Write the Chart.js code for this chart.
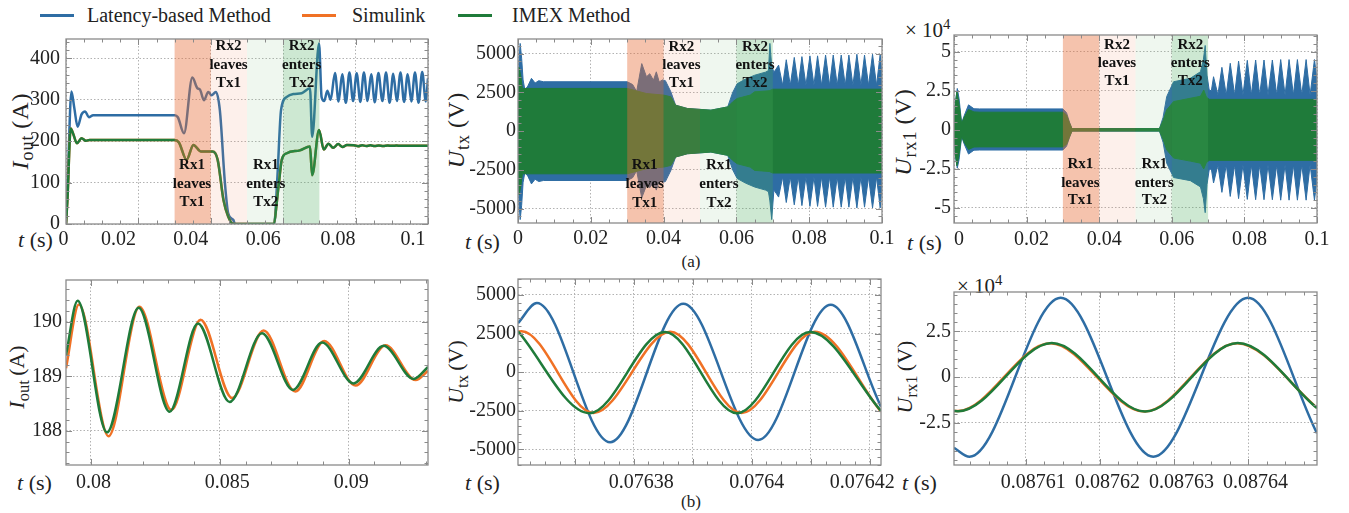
<!DOCTYPE html>
<html>
<head>
<meta charset="utf-8">
<title>Latency-based Method vs Simulink vs IMEX Method</title>
<script src="https://cdn.jsdelivr.net/npm/chart.js@4.4.1/dist/chart.umd.min.js"></script>
<style>
  body { margin: 0; background: #fff; }
  #fig { position: relative; width: 1349px; height: 513px; overflow: hidden;
         font-family: 'Liberation Serif', 'Times New Roman', serif; color: #222; }
  #fig canvas { position: absolute; }
  .txt { position: absolute; white-space: nowrap; line-height: 1; }
  .yt { position: absolute; white-space: nowrap; line-height: 1;
        transform: translate(-50%, -50%) rotate(-90deg); }
  .yt sub { font-size: 0.75em; vertical-align: -0.3em; }
  .big { font-size: 24px; letter-spacing: 1px; }
  .small { font-size: 22px; }
  .key { position: absolute; height: 3px; width: 34px; }
</style>
</head>
<body>
<div id="fig">
  <div class="key" style="left:40px;top:14px;background:#2e6da4"></div>
  <div class="txt" style="left:87px;top:5px;font-size:20px">Latency-based Method</div>
  <div class="key" style="left:302px;top:14px;background:#f07125"></div>
  <div class="txt" style="left:352px;top:5px;font-size:20px">Simulink</div>
  <div class="key" style="left:458px;top:14px;background:#1f7b3a"></div>
  <div class="txt" style="left:512px;top:5px;font-size:20px">IMEX Method</div>

  <div class="yt big" style="left:22px;top:131px"><i>I</i><sub>out</sub>&thinsp;(A)</div>
  <div class="yt big" style="left:458px;top:130px"><i>U</i><sub>tx</sub>&thinsp;(V)</div>
  <div class="yt big" style="left:905px;top:132px"><i>U</i><sub>rx1</sub>&thinsp;(V)</div>
  <div class="yt small" style="left:19px;top:377px"><i>I</i><sub>out</sub>&thinsp;(A)</div>
  <div class="yt small" style="left:458px;top:372px"><i>U</i><sub>tx</sub>&thinsp;(V)</div>
  <div class="yt small" style="left:907px;top:377px"><i>U</i><sub>rx1</sub>&thinsp;(V)</div>

  <div class="txt" style="left:18px;top:229px;font-size:22px"><i>t</i>&nbsp;(s)</div>
  <div class="txt" style="left:465px;top:231px;font-size:22px"><i>t</i>&nbsp;(s)</div>
  <div class="txt" style="left:907px;top:232px;font-size:22px"><i>t</i>&nbsp;(s)</div>
  <div class="txt" style="left:17px;top:472px;font-size:22px"><i>t</i>&nbsp;(s)</div>
  <div class="txt" style="left:465px;top:472px;font-size:22px"><i>t</i>&nbsp;(s)</div>
  <div class="txt" style="left:902px;top:472px;font-size:22px"><i>t</i>&nbsp;(s)</div>

  <div class="txt" style="left:905px;top:17px;font-size:21px">&times; 10<sup style="font-size:0.7em">4</sup></div>
  <div class="txt" style="left:957px;top:273px;font-size:21px">&times; 10<sup style="font-size:0.7em">4</sup></div>

  <div class="txt" style="left:691px;top:253px;font-size:17px;transform:translateX(-50%)">(a)</div>
  <div class="txt" style="left:691px;top:493px;font-size:17px;transform:translateX(-50%)">(b)</div>
</div>

<script>
// ---------- (a) full run, 0 .. 0.1 s ----------
// output current, latency-based method
const tLatIout = [0, 0.0004, 0.0015, 0.0023, 0.0032, 0.0043, 0.0053, 0.0063, 0.0075,
  0.03, 0.0309, 0.0326, 0.0349, 0.0363, 0.037, 0.0381, 0.0393, 0.0402, 0.0414,
  0.0425, 0.0439, 0.0448, 0.0462, 0.0467,
  0.0575, 0.0584, 0.0594, 0.061, 0.0628, 0.0651, 0.0674, 0.068, 0.0699,
  0.0706, 0.0713, 0.0722, 0.0731,
  0.0743, 0.0753, 0.0763, 0.0773, 0.0783, 0.0793, 0.0803, 0.0813, 0.0823, 0.0833,
  0.0843, 0.0853, 0.0863, 0.0874, 0.0884, 0.0894, 0.0904, 0.0914, 0.0924, 0.0934,
  0.0944, 0.0954, 0.0964, 0.0974, 0.0984, 0.0994, 0.1];
const latIout = [0, 80, 320, 280, 235, 265, 272, 258, 263,
  263, 258, 219, 354, 328, 325, 299, 319, 311, 319,
  275, 99, 26, 10, 0,
  0, 114, 275, 307, 314, 316, 328, 211, 436,
  307, 297, 322, 300,
  365, 296, 362, 293, 366, 297, 364, 295, 366, 297,
  362, 294, 365, 297, 366, 293, 363, 297, 366, 295,
  362, 296, 366, 293, 367, 296, 352];

// output current, IMEX method (Simulink lies on top of it at this scale)
const tImexIout = [0, 0.0004, 0.0013, 0.0021, 0.003, 0.0043, 0.0055, 0.0065,
  0.03, 0.0312, 0.0333, 0.0352, 0.0373, 0.0405, 0.0419, 0.0435, 0.0448, 0.0462,
  0.0573, 0.0587, 0.0596, 0.061, 0.0646, 0.0674, 0.068, 0.0699,
  0.0712, 0.0725, 0.0738, 0.0752, 0.0764, 0.0776,
  0.0795, 0.0807, 0.0818, 0.0829, 0.0841, 0.0853, 0.0864, 0.0876, 0.0889, 0.0901, 0.0913, 0.0925, 0.1];
const imexIout = [0, 60, 231, 215, 195, 207, 201, 203,
  203, 197, 155, 191, 175, 175, 155, 58, 18, 0,
  0, 90, 155, 171, 178, 187, 118, 227,
  180, 194, 184, 193, 186, 191,
  190.4, 188, 190.3, 188.4, 190, 188.5, 189.8, 188.7, 189.6, 188.9, 189.5, 188.9, 189.2];

// transmitter voltage envelopes (upper / lower edge of the fast carrier)
const tLatUtx = [0, 0.0003, 0.0006, 0.001, 0.0014, 0.0019, 0.0027, 0.0037, 0.0047, 0.0057,
  0.007, 0.03, 0.0315, 0.0326, 0.034, 0.0353, 0.0362, 0.0372, 0.038, 0.0388,
  0.0397, 0.0405, 0.042, 0.0433, 0.0465, 0.053, 0.0576, 0.059, 0.0602, 0.0625,
  0.065, 0.068, 0.0688, 0.0692, 0.0697, 0.0703, 0.0709,
  0.0716, 0.0727, 0.0737, 0.0748, 0.0759, 0.077, 0.078, 0.0791, 0.0802, 0.0813,
  0.0823, 0.0834, 0.0845, 0.0856, 0.0866, 0.0877, 0.0888, 0.0899, 0.0909, 0.092,
  0.0931, 0.0942, 0.0952, 0.0963, 0.0974, 0.0985, 0.0995, 0.1];
const latUtxHi = [0, 4600, 5650, 4700, 3300, 2650, 2900, 3400, 3100, 3250,
  3180, 3180, 3000, 2550, 4350, 3500, 3700, 3280, 3820, 3170,
  3300, 3250, 2530, 1670, 1460, 1350, 1560, 2500, 3050, 3350,
  3600, 3800, 3900, 5650, 4200, 3800, 4000,
  4250, 2950, 4600, 2950, 4750, 2950, 4800, 2950, 4850, 2960,
  4850, 2950, 4900, 2950, 4900, 2960, 4900, 2950, 4900, 2950,
  4950, 2960, 4900, 2950, 4950, 2960, 4950, 3600];
const latUtxLo = [0, -4700, -5700, -4800, -3300, -2650, -2900, -3400, -3100, -3250,
  -3180, -3180, -3000, -2550, -4300, -3500, -3650, -3280, -3800, -3170,
  -3300, -3250, -2530, -1670, -1460, -1350, -1560, -2500, -3050, -3350,
  -3600, -3800, -3900, -4500, -5700, -3800, -4000,
  -4250, -2950, -4600, -2950, -4750, -2950, -4800, -2950, -4850, -2960,
  -4850, -2950, -4900, -2950, -4900, -2960, -4900, -2950, -4900, -2950,
  -4950, -2960, -4900, -2950, -4950, -2960, -4950, -3600];

const tImexUtx = [0, 0.0003, 0.0008, 0.0012, 0.03, 0.0353, 0.04, 0.042, 0.0433, 0.0465,
  0.053, 0.0576, 0.059, 0.0602, 0.0638, 0.065, 0.069, 0.07, 0.1];
const imexUtxHi = [0, 4100, 3500, 2750, 2750, 2420, 2320, 2210, 1670, 1460,
  1350, 1560, 1890, 2100, 2320, 2530, 2600, 2700, 2700];
const imexUtxLo = [0, -4100, -3500, -2750, -2750, -2420, -2320, -2210, -1670, -1460,
  -1350, -1560, -1890, -2100, -2320, -2530, -2600, -2700, -2700];

// receiver 1 voltage envelopes
const tLatUrx = [0, 0.0004, 0.0009, 0.0014, 0.0021, 0.0028, 0.004, 0.0055, 0.007,
  0.03, 0.031, 0.0318, 0.0325,
  0.0566, 0.0576, 0.0586, 0.0605, 0.0651, 0.0679, 0.0687, 0.0692, 0.0697, 0.0703, 0.0709,
  0.0715, 0.0727, 0.0738, 0.075, 0.0761, 0.0773, 0.0784, 0.0796, 0.0808, 0.0819, 0.0831,
  0.0842, 0.0854, 0.0865, 0.0877, 0.0889, 0.09, 0.0912, 0.0923, 0.0935, 0.0946, 0.0958,
  0.097, 0.0981, 0.0993, 0.1];
const latUrxHi = [0, 18000, 26500, 20000, 4300, 9000, 16000, 13500, 13400,
  13400, 11000, 5000, 800,
  800, 8000, 21300, 30800, 33000, 37200, 45000, 54000, 35000, 25500, 25000,
  34000, 22500, 40000, 22300, 42600, 22300, 44000, 22300, 44500, 22300, 44700,
  22300, 44700, 22300, 44700, 22300, 45000, 22300, 45000, 22300, 45000, 22300,
  45000, 22300, 45000, 32000];
const latUrxLo = [0, -17000, -24500, -19000, -4300, -9000, -15500, -13000, -12900,
  -12900, -10500, -5000, -800,
  -800, -8000, -21300, -30500, -32500, -36500, -44000, -53000, -35000, -25500, -25000,
  -34000, -22500, -40000, -22300, -42600, -22300, -44000, -22300, -44500, -22300, -44700,
  -22300, -44700, -22300, -44700, -22300, -45000, -22300, -45000, -22300, -45000, -22300,
  -45000, -22300, -45000, -32000];

const tImexUrx = [0, 0.0004, 0.0008, 0.0013, 0.0021, 0.0028, 0.004, 0.0055, 0.007,
  0.03, 0.031, 0.0318, 0.0325, 0.0566, 0.0576, 0.0586, 0.0605, 0.0651, 0.0679,
  0.0688, 0.0695, 0.0703, 0.1];
const imexUrxHi = [0, 17000, 24500, 18000, 4000, 8000, 13000, 11500, 11300,
  11300, 9500, 4500, 800, 800, 6000, 12800, 18100, 20200, 21500,
  25500, 21000, 19500, 19500];
const imexUrxLo = [0, -16000, -23000, -17000, -4000, -8000, -12500, -11000, -10900,
  -10900, -9200, -4500, -800, -800, -6000, -12800, -18000, -20000, -21300,
  -25000, -21000, -19500, -19500];

// ---------- (b) zoomed windows ----------
const tSimIoutZ = [0.07903, 0.07953, 0.08068, 0.08188, 0.08312, 0.08425, 0.08548,
  0.0867, 0.08793, 0.08905, 0.09027, 0.09143, 0.0926, 0.09308];
const simIoutZ = [189.15, 190.32, 187.9, 190.28, 188.38, 190.04, 188.6,
  189.84, 188.72, 189.65, 188.83, 189.57, 188.93, 189.1];
const tImexIoutZ = [0.07903, 0.07948, 0.08062, 0.08185, 0.08305, 0.08415, 0.08538,
  0.08664, 0.08784, 0.08897, 0.09019, 0.09136, 0.09252, 0.09308];
const imexIoutZ = [189.39, 190.39, 187.97, 190.26, 188.35, 189.97, 188.53,
  189.79, 188.75, 189.62, 188.87, 189.56, 188.95, 189.17];

const tLatUtxZ = [0.0763604, 0.0763636, 0.076376, 0.0763884, 0.0764011, 0.0764134, 0.0764219];
const latUtxZ = [3175, 4472, -4537, 4426, -4388, 4362, -2229];
const tSimUtxZ = [0.0763604, 0.076361, 0.0763732, 0.0763862, 0.0763983, 0.0764107, 0.0764219];
const simUtxZ = [2620, 2640, -2640, 2620, -2640, 2620, -2560];
const tImexUtxZ = [0.0763604, 0.0763725, 0.0763853, 0.0763975, 0.0764099, 0.0764219];
const imexUtxZ = [2640, -2657, 2600, -2657, 2600, -2508];

const tLatUrxZ = [0.0876003, 0.0876024, 0.0876147, 0.0876272, 0.08764, 0.0876493];
const latUrxZ = [-38500, -43400, 43200, -43400, 43200, -30600];
const tSimUrxZ = [0.0876003, 0.0876008, 0.0876133, 0.087626, 0.0876385, 0.0876493];
const simUrxZ = [-18400, -18500, 18400, -18800, 18500, -16700];
const tImexUrxZ = [0.0876003, 0.0876009, 0.0876135, 0.0876261, 0.0876386, 0.0876493];
const imexUrxZ = [-18400, -18600, 18600, -18800, 18600, -16900];

// ---------- ticks ----------
const xTicksA = [0, 0.02, 0.04, 0.06, 0.08, 0.1];
const xLabelsA = ['0', '0.02', '0.04', '0.06', '0.08', '0.1'];
const ioutTicksA = [0, 100, 200, 300, 400];
const ioutLabelsA = ['0', '100', '200', '300', '400'];
const utxTicks = [-5000, -2500, 0, 2500, 5000];
const utxLabels = ['-5000', '-2500', '0', '2500', '5000'];
const urxTicksA = [-50000, -25000, 0, 25000, 50000];
const urxLabelsA = ['-5', '-2.5', '0', '2.5', '5'];

const xTicksIoutZ = [0.08, 0.085, 0.09];
const xLabelsIoutZ = ['0.08', '0.085', '0.09'];
const ioutTicksZ = [188, 189, 190];
const ioutLabelsZ = ['188', '189', '190'];
const xTicksUtxZ = [0.07637, 0.07638, 0.07639, 0.0764, 0.07641, 0.07642];
const xLabelsUtxZ = ['', '0.07638', '', '0.0764', '', '0.07642'];
const xTicksUrxZ = [0.08761, 0.08762, 0.08763, 0.08764];
const xLabelsUrxZ = ['0.08761', '0.08762', '0.08763', '0.08764'];
const urxTicksZ = [-25000, 0, 25000];
const urxLabelsZ = ['-2.5', '0', '2.5'];

// ---------- receiver events ----------
const bandStart = [0.03, 0.04, 0.05, 0.06];
const bandEnd = [0.04, 0.05, 0.06, 0.07];
const eventT = [0.0348, 0.0449, 0.0552, 0.0651];
const eventText = [['Rx1', 'leaves', 'Tx1'], ['Rx2', 'leaves', 'Tx1'],
                   ['Rx1', 'enters', 'Tx2'], ['Rx2', 'enters', 'Tx2']];

// ---------- style ----------
const FONT = "'Liberation Serif', 'Times New Roman', serif";
const BLUE = '#2e6da4', ORANGE = '#f07125', GREEN = '#1f7b3a';
const BAND_COLORS = ['rgba(232,112,60,0.42)', 'rgba(240,140,100,0.13)',
                     'rgba(120,190,120,0.12)', 'rgba(70,170,90,0.27)'];
const EVENT_SIDE = ['bottom', 'top', 'bottom', 'top'];
const AW = 60, XH = 30, PT = 14;
// horizontal nudge (px) of individual x tick labels, as set in the original figure
const NUDGE_TL = [-3, -20, -19, -20, -18, -16];
const NUDGE_TR = [4, 5, 6, 6, 5, 0];
const NUDGE_BL = [3, 7, 3];
const NUDGE_BM = [0, 8, 0, 6, 0, -7];
const NUDGE_BR = [7, 7, 8, 8];
const SPACE_PX = 5;   // width of a space at 20px Liberation Serif

Chart.defaults.font.family = FONT;
Chart.defaults.font.size = 20;
Chart.defaults.color = '#222';
Chart.defaults.animation = false;

const pts = (t, v) => t.map((x, i) => ({ x: x, y: v[i] }));

function nudge(label, px) {
  if (!px || !label) return label;
  const pad = ' '.repeat(Math.round(Math.abs(2 * px) / SPACE_PX));
  return px > 0 ? pad + label : label + pad;
}

function curve(t, v, color) {
  return { data: pts(t, v), borderColor: color, borderWidth: 2.5, pointRadius: 0,
           fill: false, cubicInterpolationMode: 'monotone' };
}

function envelope(t, hi, lo, color) {
  return [
    { data: pts(t, hi), borderColor: color, backgroundColor: color, borderWidth: 1,
      pointRadius: 0, fill: '+1', tension: 0 },
    { data: pts(t, lo), borderColor: color, borderWidth: 1, pointRadius: 0,
      fill: false, tension: 0 }
  ];
}

function axis(min, max, ticks, labels, pad, horizontal, shifts) {
  return {
    type: 'linear', min: min, max: max,
    afterBuildTicks: s => { s.ticks = ticks.map(v => ({ value: v })); },
    afterFit: s => {
      if (horizontal) { s.height = XH; s.paddingLeft = 0; s.paddingRight = 0; }
      else { s.width = AW; s.paddingTop = 0; s.paddingBottom = 0; }
    },
    ticks: { autoSkip: false, maxRotation: 0, padding: pad, color: '#222',
             callback: (v, i) => nudge(labels[i], shifts ? shifts[i] : 0) },
    grid: { color: '#b2b2b2', lineWidth: 1, drawTicks: false },
    border: { display: false, dash: [1.5, 2] }
  };
}

function inwardTicks(ctx, a, scale, step, majors, horizontal) {
  const k0 = Math.ceil(scale.min / step - 1e-6), k1 = Math.floor(scale.max / step + 1e-6);
  ctx.beginPath();
  for (let k = k0; k <= k1; k++) {
    const v = k * step;
    const len = majors.some(m => Math.abs(m - v) < step * 0.05) ? 6 : 3.5;
    const p = Math.round(scale.getPixelForValue(v)) + 0.5;
    if (horizontal) {
      ctx.moveTo(p, a.bottom); ctx.lineTo(p, a.bottom - len);
      ctx.moveTo(p, a.top); ctx.lineTo(p, a.top + len);
    } else {
      ctx.moveTo(a.left, p); ctx.lineTo(a.left + len, p);
      ctx.moveTo(a.right, p); ctx.lineTo(a.right - len, p);
    }
  }
  ctx.stroke();
}

const deco = {
  id: 'deco',
  afterDatasetsDraw(chart, args, o) {
    if (!o.rows) return;
    const { ctx, chartArea: a, scales: { x } } = chart;
    ctx.save();
    ctx.beginPath(); ctx.rect(a.left, a.top, a.width, a.height); ctx.clip();
    bandStart.forEach((s, i) => {
      const x0 = x.getPixelForValue(s), x1 = x.getPixelForValue(bandEnd[i]);
      ctx.fillStyle = BAND_COLORS[i];
      ctx.fillRect(x0, a.top, x1 - x0, a.height);
    });
    ctx.font = 'bold 15px ' + FONT;
    ctx.fillStyle = '#111';
    ctx.textAlign = 'center';
    ctx.textBaseline = 'middle';
    eventText.forEach((lines, i) => {
      const cx = x.getPixelForValue(eventT[i]);
      const rows = o.rows[EVENT_SIDE[i]];
      lines.forEach((s, k) => ctx.fillText(s, cx, a.top + rows[k]));
    });
    ctx.restore();
  },
  afterDraw(chart, args, o) {
    const { ctx, chartArea: a, scales: { x, y } } = chart;
    ctx.save();
    ctx.strokeStyle = '#8a8a8a';
    ctx.lineWidth = 1;
    inwardTicks(ctx, a, x, o.xMinor, o.xMajor, true);
    inwardTicks(ctx, a, y, o.yMinor, o.yMajor, false);
    ctx.lineWidth = 1.3;
    ctx.strokeRect(a.left, a.top, a.width, a.height);
    ctx.restore();
  }
};

const fig = document.getElementById('fig');

function panel(box, datasets, xAxis, yAxis, decoOpts) {
  const cv = document.createElement('canvas');
  const w = box.R - box.L + AW + box.pr, h = box.B - box.T + PT + XH;
  cv.width = w; cv.height = h;
  cv.style.left = (box.L - AW) + 'px';
  cv.style.top = (box.T - PT) + 'px';
  cv.style.width = w + 'px';
  cv.style.height = h + 'px';
  fig.appendChild(cv);
  return new Chart(cv, {
    type: 'line',
    data: { datasets: datasets },
    options: {
      responsive: false, devicePixelRatio: 1, animation: false,
      layout: { padding: { left: 0, right: box.pr, top: PT, bottom: 0 } },
      scales: { x: xAxis, y: yAxis },
      plugins: { legend: { display: false }, tooltip: { enabled: false }, deco: decoOpts }
    },
    plugins: [deco]
  });
}

// (a) output current
panel({ L: 66, R: 428, T: 39, B: 224, pr: 18 },
  [curve(tImexIout, imexIout, GREEN), curve(tImexIout, imexIout, ORANGE), curve(tLatIout, latIout, BLUE)],
  axis(0, 0.1, xTicksA, xLabelsA, 4, true, NUDGE_TL),
  axis(0, 447, ioutTicksA, ioutLabelsA, 6, false),
  { xMinor: 0.005, xMajor: xTicksA, yMinor: 20, yMajor: ioutTicksA,
    rows: { top: [7, 26, 44], bottom: [126, 145, 163] } });

// (a) transmitter voltage
panel({ L: 518, R: 882, T: 39, B: 223, pr: 18 },
  [...envelope(tImexUtx, imexUtxHi, imexUtxLo, GREEN), ...envelope(tLatUtx, latUtxHi, latUtxLo, BLUE)],
  axis(0, 0.1, xTicksA, xLabelsA, 4, true),
  axis(-5920, 5935, utxTicks, utxLabels, 2, false),
  { xMinor: 0.005, xMajor: xTicksA, yMinor: 500, yMajor: utxTicks,
    rows: { top: [8, 26, 44], bottom: [126, 145, 164] } });

// (a) receiver 1 voltage
panel({ L: 954, R: 1317, T: 35, B: 223, pr: 24 },
  [...envelope(tImexUrx, imexUrxHi, imexUrxLo, GREEN), ...envelope(tLatUrx, latUrxHi, latUrxLo, BLUE)],
  axis(0, 0.1, xTicksA, xLabelsA, 5, true, NUDGE_TR),
  axis(-59600, 60700, urxTicksA, urxLabelsA, 3, false),
  { xMinor: 0.005, xMajor: xTicksA, yMinor: 5000, yMajor: urxTicksA,
    rows: { top: [10, 28, 46], bottom: [129, 148, 165] } });

// (b) output current zoom
panel({ L: 66, R: 428, T: 280, B: 465, pr: 18 },
  [curve(tImexIoutZ, imexIoutZ, GREEN), curve(tSimIoutZ, simIoutZ, ORANGE)],
  axis(0.07903, 0.09308, xTicksIoutZ, xLabelsIoutZ, 6, true, NUDGE_BL),
  axis(187.37, 190.77, ioutTicksZ, ioutLabelsZ, 4, false),
  { xMinor: 0.001, xMajor: xTicksIoutZ, yMinor: 0.2, yMajor: ioutTicksZ });

// (b) transmitter voltage zoom
panel({ L: 518, R: 881, T: 279, B: 465, pr: 30 },
  [curve(tImexUtxZ, imexUtxZ, GREEN), curve(tSimUtxZ, simUtxZ, ORANGE), curve(tLatUtxZ, latUtxZ, BLUE)],
  axis(0.0763604, 0.0764219, xTicksUtxZ, xLabelsUtxZ, 6, true, NUDGE_BM),
  axis(-6008, 6027, utxTicks, utxLabels, 2, false),
  { xMinor: 0.0000025, xMajor: xTicksUtxZ, yMinor: 500, yMajor: utxTicks });

// (b) receiver 1 voltage zoom
panel({ L: 954, R: 1317, T: 292, B: 465, pr: 20 },
  [curve(tImexUrxZ, imexUrxZ, GREEN), curve(tSimUrxZ, simUrxZ, ORANGE), curve(tLatUrxZ, latUrxZ, BLUE)],
  axis(0.0876003, 0.0876493, xTicksUrxZ, xLabelsUrxZ, 6, true, NUDGE_BR),
  axis(-47900, 46400, urxTicksZ, urxLabelsZ, 3, false),
  { xMinor: 0.0000025, xMajor: xTicksUrxZ, yMinor: 5000, yMajor: urxTicksZ });
</script>
</body>
</html>
